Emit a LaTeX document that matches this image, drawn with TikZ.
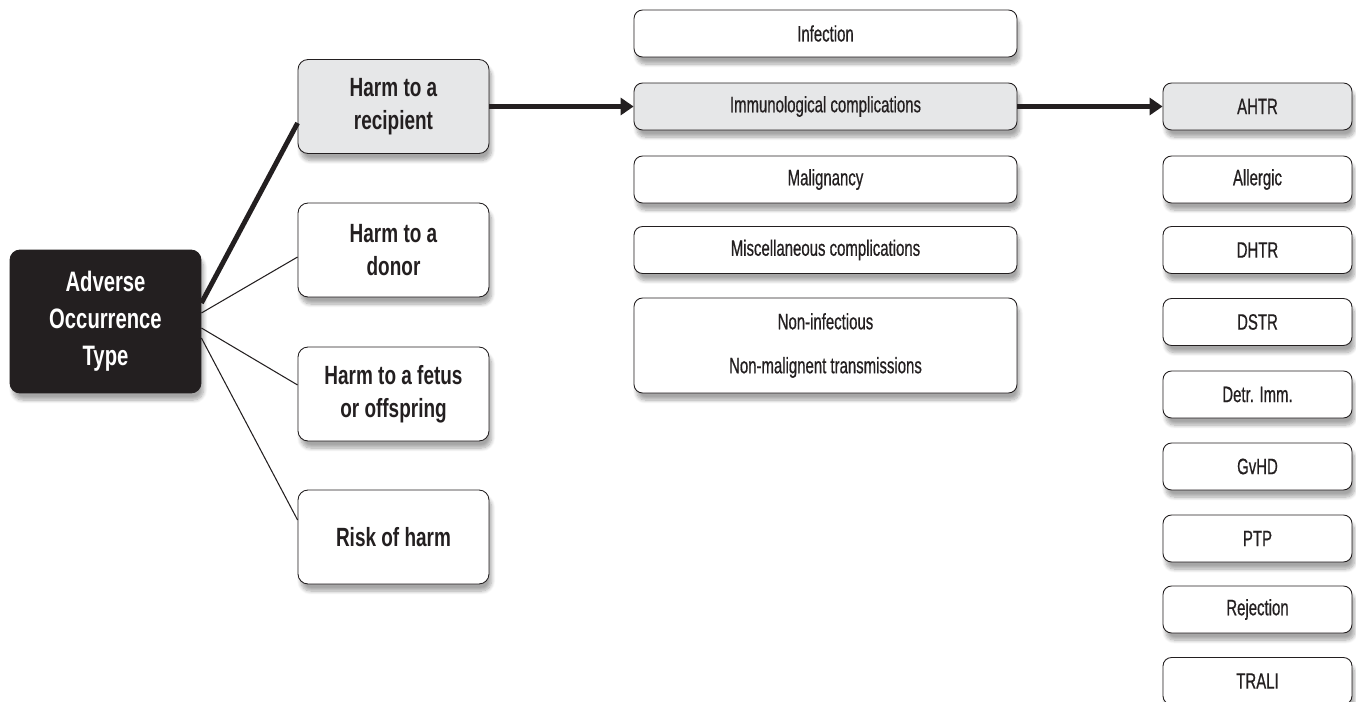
\documentclass[tikz,border=0pt]{standalone}
\usepackage{fontspec}
\setmainfont[FakeStretch=0.67, FakeBold=0.6]{Liberation Sans}
\newfontfamily\condbold[FakeStretch=0.72]{Liberation Sans Bold}
\usetikzlibrary{arrows.meta,shadows.blur}
\definecolor{ink}{HTML}{231F20}
\definecolor{paleGray}{HTML}{E6E7E8}
\tikzset{
  box/.style={draw=ink, line width=0.5pt, rounded corners=0.2cm, fill=white, text=ink,
    align=center, blur shadow={shadow xshift=1.5pt, shadow yshift=-4pt, shadow blur steps=8, shadow opacity=35}},
  typebox/.style={box, minimum width=3.82cm, minimum height=1.88cm, font=\condbold\fontsize{15}{18.5}\selectfont},
  groupbox/.style={box, minimum width=7.66cm, minimum height=0.94cm, rounded corners=0.17cm, font=\fontsize{12.7}{15}\selectfont},
  reactbox/.style={box, minimum width=3.78cm, minimum height=0.94cm, rounded corners=0.17cm, font=\fontsize{12.7}{15}\selectfont},
  picked/.style={fill=paleGray},
  thin link/.style={draw=ink, line width=0.6pt},
  thick link/.style={draw=ink, line width=2.8pt},
  pointer/.style={thick link, -{Triangle[length=0.26cm, width=0.34cm]}}
}

\begin{document}
\begin{tikzpicture}[x=0.02cm, y=-0.02cm]
		%%%%% START %%%%%
		\useasboundingbox (0, 0) rectangle (1356, 702);
		
		% root
		\node[box, fill=ink, draw=ink, text=white, minimum width=3.82cm, minimum height=2.86cm,
		  font=\condbold\fontsize{16}{21}\selectfont] (adverse) at (105.5, 321.5) {Adverse\\Occurrence\\Type};
		
		% kinds of occurrence
		\node[typebox, picked] (recipient) at (393.5, 106.5) {Harm to a\\recipient};
		\node[typebox] (donor) at (393.5, 250) {Harm to a\\donor};
		\node[typebox] (fetus) at (393.5, 394) {Harm to a fetus\\or offspring};
		\node[typebox] (risk) at (393.5, 537) {Risk of harm};
		
		% harm to a recipient
		\node[groupbox] (infection) at (825.5, 33.5) {Infection};
		\node[groupbox, picked] (immuno) at (825.5, 106.5) {Immunological complications};
		\node[groupbox] (malignancy) at (825.5, 179.5) {Malignancy};
		\node[groupbox] (misc) at (825.5, 250) {Miscellaneous complications};
		\node[groupbox, minimum height=1.9cm, font=\fontsize{12.7}{25}\selectfont] (noninf) at (825.5, 345.5)
		  {Non-infectious\\Non-malignent transmissions};
		
		% immunological complications
		\node[reactbox, picked] (ahtr) at (1257.5, 106.5) {AHTR};
		\node[reactbox] (allergic) at (1257.5, 179.5) {Allergic};
		\node[reactbox] (dhtr) at (1257.5, 250) {DHTR};
		\node[reactbox] (dstr) at (1257.5, 322) {DSTR};
		\node[reactbox] (detr) at (1257.5, 394.5) {Detr. Imm.};
		\node[reactbox] (gvhd) at (1257.5, 466.5) {GvHD};
		\node[reactbox] (ptp) at (1257.5, 538.5) {PTP};
		\node[reactbox] (rejection) at (1257.5, 609.5) {Rejection};
		\node[reactbox] (trali) at (1257.5, 681) {TRALI};
		
		% links
		\draw[thick link] ([yshift=0.37cm]adverse.east) -- ([yshift=-0.33cm]recipient.west);
		\draw[thin link] ([yshift=0.17cm]adverse.east) -- ([yshift=-0.14cm]donor.west);
		\draw[thin link] ([yshift=-0.13cm]adverse.east) -- ([yshift=0.18cm]fetus.west);
		\draw[thin link] ([yshift=-0.33cm]adverse.east) -- ([yshift=0.34cm]risk.west);
		
		\draw[pointer] (recipient.east) -- (immuno.west);
		\draw[pointer] (immuno.east) -- (ahtr.west);
		
		%%%%% END %%%%%
	\end{tikzpicture}
\end{document}
